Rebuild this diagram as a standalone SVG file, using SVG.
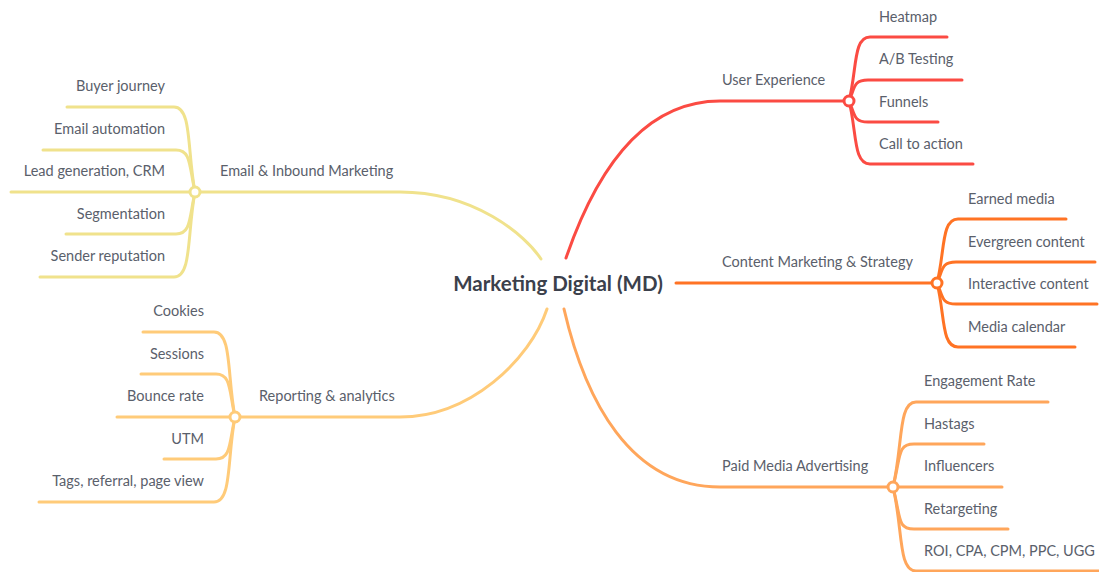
<svg xmlns="http://www.w3.org/2000/svg" width="1099" height="572" viewBox="0 0 1099 572">
<style>
  .ln{fill:none;stroke-width:3;stroke-linecap:round}
  .dot{fill:#fff;stroke-width:3}
  .t{font-family:Lato,"Open Sans","Liberation Sans",sans-serif;font-size:14.5px;fill:#5a606b}
  .c{font-family:Lato,"Open Sans","Liberation Sans",sans-serif;font-size:20.5px;font-weight:bold;fill:#3b404b}
  .r{text-anchor:end}
  .ux{stroke:#fb4b43}
  .cm{stroke:#ff7324}
  .pm{stroke:#ffa65b}
  .em{stroke:#f0e28c}
  .ra{stroke:#ffcb79}
</style>
<rect width="1099" height="572" fill="#fff"/>
<g id="connectors">
  <path class="ln ux" d="M566,258 Q620,101 720,101 H844"/>
  <path class="ln cm" d="M676,283 H932"/>
  <path class="ln pm" d="M564,309 C585,400 630,487 720,487 H888"/>
  <path class="ln em" d="M541,259 C525,235 475,192 400,192 H200"/>
  <path class="ln ra" d="M547,309 C530,360 470,417 400,417 H240"/>
  <path class="ln ux" d="M849,101 C857,70 853,37 870,37 H947"/>
  <path class="ln ux" d="M849,101 C855,88 853,80 868,80 H962"/>
  <path class="ln ux" d="M849,101 C855,114 853,122 868,122 H938"/>
  <path class="ln ux" d="M849,101 C857,132 853,164 870,164 H973"/>
  <path class="ln cm" d="M937,283 C945,252 941,219 958,219 H1066"/>
  <path class="ln cm" d="M937,283 C943,270 941,262 956,262 H1095"/>
  <path class="ln cm" d="M937,283 C943,296 941,304 956,304 H1097"/>
  <path class="ln cm" d="M937,283 C945,314 941,347 958,347 H1075"/>
  <path class="ln pm" d="M893,487 C903,445 898,402 916,402 H1048"/>
  <path class="ln pm" d="M893,487 C901,456 897,444 914,444 H984"/>
  <path class="ln pm" d="M898,487 H1002"/>
  <path class="ln pm" d="M893,487 C901,518 897,529 914,529 H1008"/>
  <path class="ln pm" d="M893,487 C903,529 898,571 916,571 H1099"/>
  <path class="ln em" d="M195,192 C187,150 192,107 174,107 H67"/>
  <path class="ln em" d="M195,192 C189,165 191,150 176,150 H43"/>
  <path class="ln em" d="M190,192 H11"/>
  <path class="ln em" d="M195,192 C189,219 191,234 176,234 H66"/>
  <path class="ln em" d="M195,192 C187,234 192,277 174,277 H40"/>
  <path class="ln ra" d="M235,417 C227,375 232,332 214,332 H143"/>
  <path class="ln ra" d="M235,417 C229,390 231,374 216,374 H141"/>
  <path class="ln ra" d="M230,417 H117"/>
  <path class="ln ra" d="M235,417 C229,444 231,459 216,459 H164"/>
  <path class="ln ra" d="M235,417 C227,459 232,502 214,502 H39"/>
</g>
<g id="center"><text class="c" x="558" y="291" text-anchor="middle">Marketing Digital (MD)</text></g>

<g id="user-experience">
  <circle class="dot ux" cx="849" cy="101" r="5"/>
  <text class="t" x="722" y="85">User Experience</text>
</g>
<g id="heatmap"><text class="t" x="879" y="22">Heatmap</text></g>
<g id="ab-testing"><text class="t" x="879" y="64">A/B Testing</text></g>
<g id="funnels"><text class="t" x="879" y="107">Funnels</text></g>
<g id="call-to-action"><text class="t" x="879" y="149">Call to action</text></g>

<g id="content-marketing">
  <circle class="dot cm" cx="937" cy="283" r="5"/>
  <text class="t" x="722" y="267">Content Marketing &amp; Strategy</text>
</g>
<g id="earned-media"><text class="t" x="968" y="204">Earned media</text></g>
<g id="evergreen"><text class="t" x="968" y="247">Evergreen content</text></g>
<g id="interactive"><text class="t" x="968" y="289">Interactive content</text></g>
<g id="media-calendar"><text class="t" x="968" y="332">Media calendar</text></g>

<g id="paid-media">
  <circle class="dot pm" cx="893" cy="487" r="5"/>
  <text class="t" x="722" y="471">Paid Media Advertising</text>
</g>
<g id="engagement"><text class="t" x="924" y="386">Engagement Rate</text></g>
<g id="hastags"><text class="t" x="924" y="429">Hastags</text></g>
<g id="influencers"><text class="t" x="924" y="471">Influencers</text></g>
<g id="retargeting"><text class="t" x="924" y="514">Retargeting</text></g>
<g id="roi"><text class="t" x="924" y="556">ROI, CPA, CPM, PPC, UGG</text></g>

<g id="email-inbound">
  <circle class="dot em" cx="195" cy="192" r="5"/>
  <text class="t" x="220" y="176">Email &amp; Inbound Marketing</text>
</g>
<g id="buyer-journey"><text class="t r" x="165" y="91">Buyer journey</text></g>
<g id="email-automation"><text class="t r" x="165" y="134">Email automation</text></g>
<g id="lead-generation"><text class="t r" x="165" y="176">Lead generation, CRM</text></g>
<g id="segmentation"><text class="t r" x="165" y="219">Segmentation</text></g>
<g id="sender-reputation"><text class="t r" x="165" y="261">Sender reputation</text></g>

<g id="reporting">
  <circle class="dot ra" cx="235" cy="417" r="5"/>
  <text class="t" x="259" y="401">Reporting &amp; analytics</text>
</g>
<g id="cookies"><text class="t r" x="204" y="316">Cookies</text></g>
<g id="sessions"><text class="t r" x="204" y="359">Sessions</text></g>
<g id="bounce-rate"><text class="t r" x="204" y="401">Bounce rate</text></g>
<g id="utm"><text class="t r" x="204" y="444">UTM</text></g>
<g id="tags"><text class="t r" x="204" y="486">Tags, referral, page view</text></g>
</svg>
